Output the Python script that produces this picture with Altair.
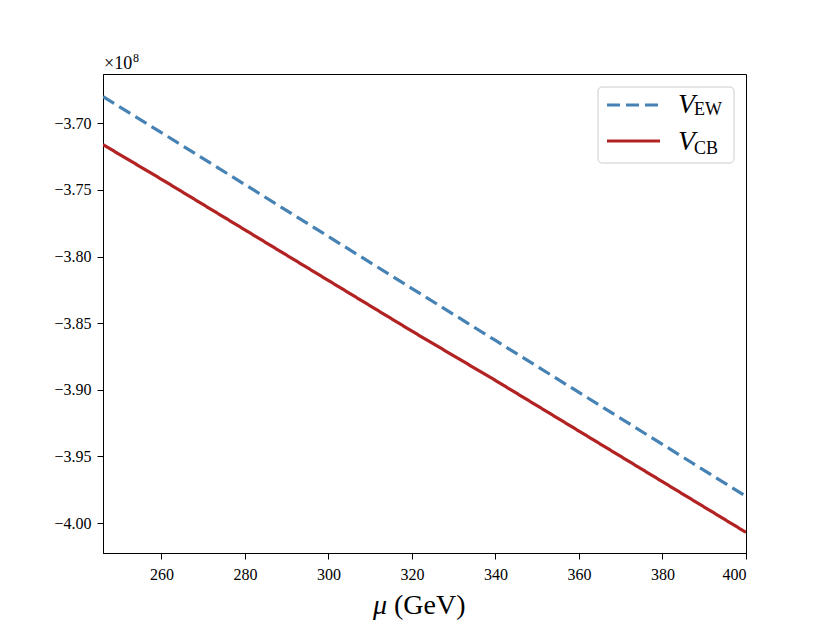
import altair as alt
import pandas as pd

# ---- data (values in units of 1e8) ----
mu = [246, 260, 280, 300, 320, 340, 360, 380, 400]
v_ew = [-3.680, -3.707, -3.746, -3.785, -3.824, -3.863, -3.902, -3.941, -3.980]
v_cb = [-3.716, -3.742, -3.780, -3.818, -3.856, -3.893, -3.931, -3.969, -4.007]
x_ticks = [260, 280, 300, 320, 340, 360, 380, 400]
y_ticks = [-3.70, -3.75, -3.80, -3.85, -3.90, -3.95, -4.00]
series = ["EW", "CB"]
colors = ["#4682b4", "#b22222"]

df = pd.DataFrame({
    "mu": mu * 2,
    "V": v_ew + v_cb,
    "series": ["EW"] * len(mu) + ["CB"] * len(mu),
})
one = pd.DataFrame({"a": [0]})

FONT = "Liberation Serif"
W, H = 643, 479
LW = 3.2
DASH = [13, 6]

lines = alt.Chart(df).mark_line(strokeWidth=LW, clip=True).encode(
    x=alt.X("mu:Q",
            scale=alt.Scale(domain=[246, 400], nice=False, zero=False),
            axis=alt.Axis(values=x_ticks, format="d", title=None, labelPadding=7,
                          labelFont=FONT, labelFontSize=16, labelColor="black")),
    y=alt.Y("V:Q",
            scale=alt.Scale(domain=[-4.0225, -3.663], nice=False, zero=False),
            axis=alt.Axis(values=y_ticks, format=".2f", title=None, labelPadding=6,
                          labelFont=FONT, labelFontSize=16, labelColor="black")),
    color=alt.Color("series:N", scale=alt.Scale(domain=series, range=colors), legend=None),
    strokeDash=alt.StrokeDash("series:N",
                              scale=alt.Scale(domain=series, range=[DASH, [1, 0]]),
                              legend=None),
)

# ---- custom legend (matplotlib style) ----
legend_box = alt.Chart(one).mark_rect(
    fill="white", fillOpacity=0.8, stroke="#cccccc", strokeWidth=1, cornerRadius=4
).encode(x=alt.value(495), x2=alt.value(631), y=alt.value(13), y2=alt.value(89))

leg_ew = alt.Chart(one).mark_rule(color=colors[0], strokeWidth=LW, strokeDash=DASH).encode(
    x=alt.value(504), x2=alt.value(557), y=alt.value(31))
leg_cb = alt.Chart(one).mark_rule(color=colors[1], strokeWidth=LW).encode(
    x=alt.value(504), x2=alt.value(557), y=alt.value(67))

def txt(s, x, y, size, italic=False):
    return alt.Chart(one).mark_text(
        text=s, font=FONT, fontSize=size, fontStyle="italic" if italic else "normal",
        align="left", baseline="alphabetic", color="black"
    ).encode(x=alt.value(x), y=alt.value(y))

legend_text = [
    txt("V", 575, 39, 28, True), txt("EW", 591, 41, 18),
    txt("V", 575, 76, 28, True), txt("CB", 591, 80, 18),
]

# offset text and axis title
extra_text = [
    txt("×10", 1, -5, 18), txt("8", 30, -12, 12),
    txt("μ", 270, 540, 28, True), txt("(GeV)", 291, 540, 28),
]

chart = alt.layer(lines, legend_box, leg_ew, leg_cb, *legend_text, *extra_text).properties(
    width=W, height=H,
    autosize=alt.AutoSizeParams(type="none"),
    padding={"left": 95, "top": 66, "right": 70, "bottom": 70},
).configure_view(
    stroke="black", strokeWidth=1
).configure_axis(
    grid=False, domainColor="black", domainWidth=1, tickColor="black", tickSize=6,
    tickWidth=1, labelFont=FONT, labelFontSize=16, labelColor="black",
)

chart.save("out.html", embed_options={"renderer": "svg", "actions": False})
